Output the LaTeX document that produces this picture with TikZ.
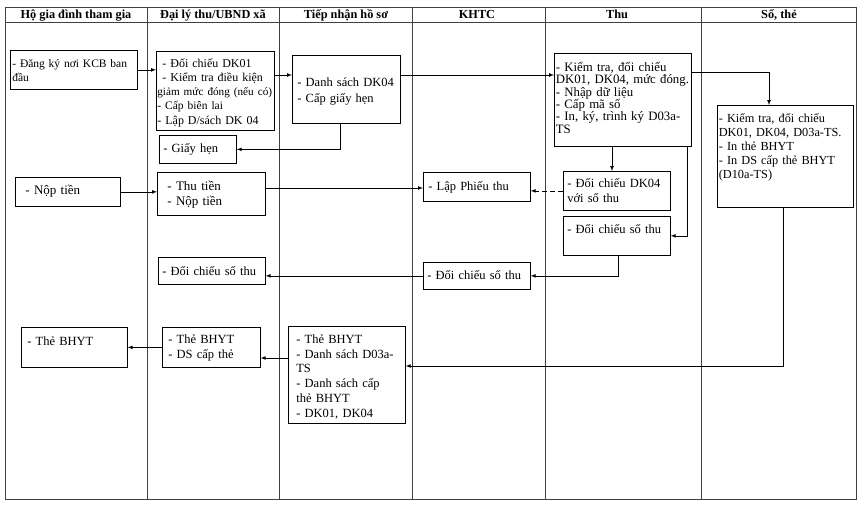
\documentclass[tikz,border=0pt]{standalone}
\usepackage{fontspec}
\setmainfont{Liberation Serif}
\usetikzlibrary{arrows}
\newcommand{\fsz}[2]{\fontsize{#1}{#2}\selectfont}

\begin{document}
\begin{tikzpicture}[x=1pt, y=-1pt,
    box/.style={draw, rectangle, anchor=north west, align=left, inner ysep=0pt, line width=0.7pt},
    lane/.style={draw=black!75, line width=0.7pt},
    head/.style={anchor=base, font=\bfseries\fsz{12.3}{14}},
    flow/.style={-latex, line width=0.7pt}]
    \useasboundingbox (0,0) rectangle (863,507);

    % lanes
    \draw[lane] (5,7) rectangle (856,499);
    \draw[lane] (5,22) -- (856,22);
    \foreach \x in {147,279,412,545,701}
        \draw[lane] (\x,7) -- (\x,499);

    \node[head] (hHo) at (76,18.5) {Hộ gia đình tham gia};
    \node[head] (hDaily) at (213,18.5) {Đại lý thu/UBND xã};
    \node[head] (hTiep) at (346,18.5) {Tiếp nhận hồ sơ};
    \node[head] (hKhtc) at (477,18.5) {KHTC};
    \node[head] (hThu) at (617,18.5) {Thu};
    \node[head] (hSo) at (779,18.5) {Sổ, thẻ};

    % row 1
    \node[box, font=\fsz{11.5}{14}, inner xsep=2pt, text width=123pt, text height=17pt, text depth=22pt] (dangky) at (10,50) {- Đăng ký nơi KCB ban\\đầu};
    \node[box, font=\fsz{12}{14.2}, inner xsep=1pt, text width=116pt, text height=16pt, text depth=63pt] (doichieu) at (156,51) {\hspace*{5pt}- Đối chiếu DK01\\\hspace*{5pt}- Kiểm tra điều kiện\\{\fsz{11.2}{14.2}giảm mức đóng (nếu có)}\\{\fsz{11.5}{14.2}- Cấp biên lai}\\- Lập D/sách DK 04};
    \node[box, font=\fsz{12.5}{16}, inner xsep=5pt, text width=98pt, text height=31pt, text depth=37pt] (dssach) at (292,55) {- Danh sách DK04\\- Cấp giấy hẹn};
    \node[box, font=\fsz{12.5}{15}, inner xsep=4pt, text width=69pt, text height=17pt, text depth=11pt] (giayhen) at (159,135) {- Giấy hẹn};
    \node[box, font=\fsz{12.8}{12.4}, inner xsep=1.5pt, text width=134pt, text height=18pt, text depth=75pt] (kiemtra) at (554,53) {- Kiểm tra, đối chiếu\\DK01, DK04, mức đóng.\\- Nhập dữ liệu\\- Cấp mã số\\- In, ký, trình ký D03a-\\TS};
    \node[box, font=\fsz{12.3}{14}, inner xsep=1.5pt, text width=133pt, text height=17pt, text depth=85pt] (sothe) at (717,105) {- Kiểm tra, đối chiếu\\DK01, DK04, D03a-TS.\\- In thẻ BHYT\\- In DS cấp thẻ BHYT\\(D10a-TS)};

    % row 2
    \node[box, font=\fsz{13}{15}, inner xsep=10pt, text width=85pt, text height=17pt, text depth=12pt] (noptien) at (15,177) {- Nộp tiền};
    \node[box, font=\fsz{13}{15}, inner xsep=10pt, text width=88pt, text height=18pt, text depth=25pt] (thutien) at (157,172) {- Thu tiền\\- Nộp tiền};
    \node[box, font=\fsz{12.5}{15}, inner xsep=5pt, text width=97pt, text height=18pt, text depth=11pt] (lapphieu) at (423,172) {- Lập Phiếu thu};
    \node[box, font=\fsz{12.5}{15}, inner xsep=4pt, text width=99pt, text height=16pt, text depth=23pt] (dcdk04) at (563,171) {- Đối chiếu DK04\\với số thu};
    \node[box, font=\fsz{12.5}{15}, inner xsep=4pt, text width=99pt, text height=17pt, text depth=22pt] (dcsothu) at (563,216) {- Đối chiếu số thu};
    \node[box, font=\fsz{12.5}{15}, inner xsep=4pt, text width=99pt, text height=17pt, text depth=10pt] (dcsothuk) at (423,262) {- Đối chiếu số thu};
    \node[box, font=\fsz{12.5}{15}, inner xsep=4pt, text width=99pt, text height=18pt, text depth=9pt] (dcsothud) at (158,257) {- Đối chiếu số thu};

    % row 3
    \node[box, font=\fsz{12.5}{15}, inner xsep=6pt, text width=94pt, text height=18pt, text depth=22pt] (thebhyt1) at (21,327) {- Thẻ BHYT};
    \node[box, font=\fsz{12.5}{15}, inner xsep=6pt, text width=86pt, text height=16pt, text depth=24pt] (thebhyt2) at (162,327) {- Thẻ BHYT\\- DS cấp thẻ};
    \node[box, font=\fsz{12.5}{14.8}, inner xsep=8pt, text width=101pt, text height=17pt, text depth=80pt] (thebhyt3) at (288,326) {- Thẻ BHYT\\- Danh sách D03a-\\TS\\- Danh sách cấp\\thẻ BHYT\\- DK01, DK04};

    % connectors
    \draw[flow] (dangky.east) -- (dangky.east -| doichieu.west);
    \coordinate (dcout) at ([yshift=-24pt]doichieu.north east);
    \draw[flow] (dcout) -- (dcout -| dssach.west);
    \coordinate (dsout) at ([yshift=-20pt]dssach.north east);
    \draw[flow] (dsout) -- (dsout -| kiemtra.west);
    \draw[flow] ([xshift=48pt]dssach.south west) |- (giayhen.east);
    \coordinate (ktout) at ([yshift=-19pt]kiemtra.north east);
    \draw[flow] (ktout) -| ([xshift=52pt]sothe.north west);
    \coordinate (ktdown) at ([xshift=58pt]kiemtra.south west);
    \draw[flow] (ktdown) -- (ktdown |- dcdk04.north);
    \draw[flow] ([xshift=133pt]kiemtra.south west) |- (dcsothu.east);
    \draw[flow, dash pattern=on 5pt off 3pt] (dcdk04.west) -- (dcdk04.west -| lapphieu.east);
    \draw[flow] ([xshift=55pt]dcsothu.south west) |- (dcsothuk.east);
    \draw[flow] (noptien.east) -- (noptien.east -| thutien.west);
    \coordinate (ttout) at ([yshift=-16pt]thutien.north east);
    \draw[flow] (ttout) -- (ttout -| lapphieu.west);
    \draw[flow] (dcsothuk.west) -- (dcsothuk.west -| dcsothud.east);
    \draw[flow] ([xshift=66pt]sothe.south west) |- ([yshift=-40pt]thebhyt3.north east);
    \coordinate (tbout) at ([yshift=-32pt]thebhyt3.north west);
    \draw[flow] (tbout) -- (tbout -| thebhyt2.east);
    \draw[flow] (thebhyt2.west) -- (thebhyt1.east);
\end{tikzpicture}
\end{document}
